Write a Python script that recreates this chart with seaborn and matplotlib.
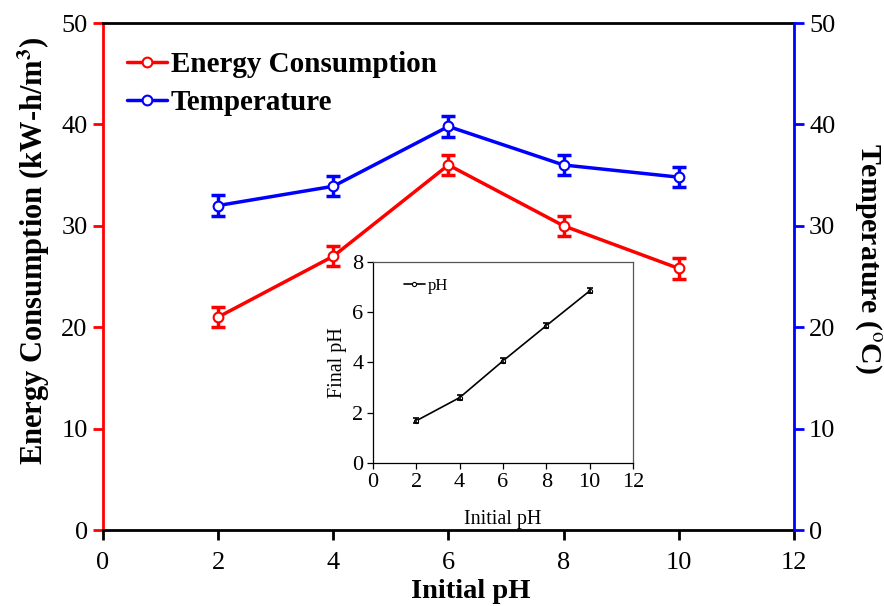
import numpy as np
import pandas as pd
import seaborn as sns
import matplotlib.pyplot as plt

# data
initial_ph = [2, 4, 6, 8, 10]
energy = [21.0, 27.0, 36.0, 30.0, 25.8]
energy_err = [1.0, 1.0, 1.0, 1.0, 1.0]
temperature = [32.0, 33.9, 39.8, 36.0, 34.8]
temperature_err = [1.0, 1.0, 1.0, 1.0, 1.0]
final_ph = [1.68, 2.6, 4.06, 5.46, 6.84]
final_ph_err = [0.1, 0.1, 0.1, 0.1, 0.1]

df = pd.DataFrame({'Initial pH': initial_ph, 'Energy': energy,
                   'Temperature': temperature, 'Final pH': final_ph})

sns.set_style("ticks")
plt.rcParams['font.family'] = ['Liberation Serif', 'DejaVu Serif']
plt.rcParams['mathtext.fontset'] = 'stix'
for k in ['text.color', 'axes.labelcolor', 'xtick.color', 'ytick.color', 'axes.edgecolor']:
    plt.rcParams[k] = 'black'

fig = plt.figure(figsize=(8.84, 6.06), dpi=100)
ax = fig.add_axes([0.1165, 0.1254, 0.7815, 0.8366])
ax2 = ax.twinx()

RED = '#ff0000'
BLUE = '#0000ff'

sns.lineplot(data=df, x='Initial pH', y='Energy', ax=ax, color=RED, lw=2.5,
             marker='o', markersize=7, markerfacecolor='white',
             markeredgecolor=RED, markeredgewidth=1.5, label='Energy Consumption',
             zorder=3)
ax.errorbar(initial_ph, energy, yerr=energy_err, fmt='none', ecolor=RED,
            elinewidth=2.5, capsize=5, capthick=2.5, zorder=2)

sns.lineplot(data=df, x='Initial pH', y='Temperature', ax=ax2, color=BLUE, lw=2.5,
             marker='o', markersize=7, markerfacecolor='white',
             markeredgecolor=BLUE, markeredgewidth=1.5, label='Temperature',
             zorder=3)
ax2.errorbar(initial_ph, temperature, yerr=temperature_err, fmt='none', ecolor=BLUE,
             elinewidth=2.5, capsize=5, capthick=2.5, zorder=2)

ax.set_xlim(0, 12)
ax.set_ylim(0, 50)
ax2.set_ylim(0, 50)
ax.set_xticks(range(0, 13, 2))
ax.set_yticks(range(0, 51, 10))
ax2.set_yticks(range(0, 51, 10))

ax.spines['left'].set_color(RED)
ax.spines['left'].set_linewidth(2)
ax2.spines['left'].set_visible(False)
ax2.spines['right'].set_color(BLUE)
ax2.spines['right'].set_linewidth(2)
for s in ['top', 'bottom']:
    ax.spines[s].set_linewidth(2)
    ax.spines[s].set_color('black')
ax2.spines['top'].set_visible(False)
ax2.spines['bottom'].set_visible(False)

ax.tick_params(axis='x', direction='out', length=7, width=2, labelsize=19, pad=9)
ax.tick_params(axis='y', direction='out', length=7, width=2, colors=RED,
               labelcolor='black', labelsize=19, pad=4)
ax2.tick_params(axis='y', direction='out', length=7, width=2, colors=BLUE,
                labelcolor='black', labelsize=19, pad=4)

ax.set_xlabel('Initial pH', fontsize=20.5, fontweight='bold')
ax.xaxis.set_label_coords(0.533, -0.097)
ax.set_ylabel(r'Energy Consumption (kW-h/m$^{\mathbf{3}}$)', fontsize=22,
              fontweight='bold')
ax.yaxis.set_label_coords(-0.074, 0.55)
ax2.set_ylabel(r'Temperature ($^{\rm o}$C)', fontsize=21.5, fontweight='bold',
               rotation=270, va='bottom')
ax2.yaxis.set_label_coords(1.086, 0.535)

# combined legend
h1, l1 = ax.get_legend_handles_labels()
h2, l2 = ax2.get_legend_handles_labels()
ax2.get_legend().remove()
ax.legend(h1 + h2, l1 + l2, loc='upper left', bbox_to_anchor=(0.035, 0.944),
          frameon=False, prop={'weight': 'bold', 'size': 21},
          borderaxespad=0, borderpad=0,
          handlelength=1.35, handletextpad=0.15, labelspacing=0.37)

# inset: final pH vs initial pH
ins = fig.add_axes([0.422, 0.236, 0.294, 0.332])
sns.lineplot(data=df, x='Initial pH', y='Final pH', ax=ins, color='black', lw=1.2,
             marker='o', markersize=3, markerfacecolor='white',
             markeredgecolor='black', markeredgewidth=0.8, label='pH')
ins.errorbar(initial_ph, final_ph, yerr=final_ph_err, fmt='none', ecolor='black',
             elinewidth=1.2, capsize=2, capthick=1.2)
ins.set_xlim(0, 12)
ins.set_ylim(0, 8)
ins.set_xticks(range(0, 13, 2))
ins.set_yticks(range(0, 9, 2))
for s in ins.spines.values():
    s.set_linewidth(0.9)
    s.set_color('black')
ins.spines['top'].set_color('#555555')
ins.spines['right'].set_color('#555555')
ins.tick_params(direction='out', length=4, width=0.9, labelsize=16, pad=3)
ins.set_xlabel('Initial pH', fontsize=14.5, labelpad=13)
ins.set_ylabel('Final pH', fontsize=14.5, labelpad=4)
ins.legend(loc='upper left', bbox_to_anchor=(0.06, 0.995), frameon=False,
           fontsize=12, handlelength=1.3, handletextpad=0.15)

fig.savefig('out.png', dpi=100)
